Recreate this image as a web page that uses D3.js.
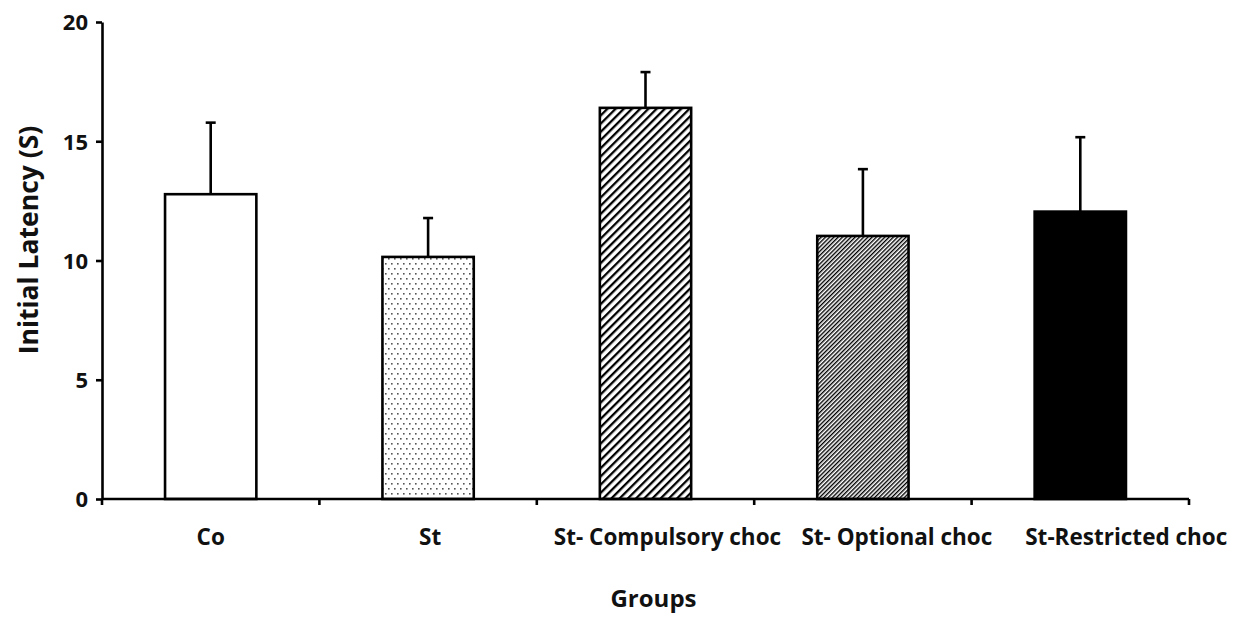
<!DOCTYPE html>
<html>
<head>
<meta charset="utf-8">
<script src="https://cdn.jsdelivr.net/npm/d3@7"></script>
<style>
  body { margin: 0; background: #fff; }
  text { font-family: "Open Sans", "DejaVu Sans", sans-serif; font-weight: 700; fill: #111; }
</style>
</head>
<body>
<div id="chart"></div>
<script>
// data
const groups = ['Co', 'St', 'St- Compulsory choc', 'St- Optional choc', 'St-Restricted choc'];
const means = [12.78, 10.15, 16.4, 11.03, 12.05];
const errors = [3.0, 1.63, 1.5, 2.8, 3.12];
const yTicks = [0, 5, 10, 15, 20];
const fills = ['#fff', 'url(#dots)', 'url(#hatchWide)', 'url(#hatchFine)', '#000'];
// the long category labels sit a little right of their bars in the original
const labelShift = [0, 2, 22, 34, 46];

const W = 1234, H = 617;
const margin = { top: 22, left: 102, right: 45, bottom: 118 };
const innerW = W - margin.left - margin.right;
const innerH = H - margin.top - margin.bottom;

const svg = d3.select('#chart').append('svg')
  .attr('width', W)
  .attr('height', H);

// fill patterns
const defs = svg.append('defs');
const dots = defs.append('pattern')
  .attr('id', 'dots')
  .attr('patternUnits', 'userSpaceOnUse')
  .attr('width', 6).attr('height', 10);
dots.append('rect').attr('width', 6).attr('height', 10).attr('fill', '#fff');
dots.append('rect').attr('x', 1).attr('y', 1).attr('width', 1.6).attr('height', 1.6).attr('fill', '#555');
dots.append('rect').attr('x', 4).attr('y', 6).attr('width', 1.6).attr('height', 1.6).attr('fill', '#555');

function hatch(id, size, thick) {
  const p = defs.append('pattern')
    .attr('id', id)
    .attr('patternUnits', 'userSpaceOnUse')
    .attr('width', size).attr('height', size)
    .attr('patternTransform', 'rotate(45)');
  p.append('rect').attr('width', size).attr('height', size).attr('fill', '#fff');
  p.append('rect').attr('width', thick).attr('height', size).attr('fill', '#000');
}
hatch('hatchWide', 5.8, 2.3);
hatch('hatchFine', 3.0, 1.4);

const g = svg.append('g').attr('transform', `translate(${margin.left},${margin.top})`);

const x = d3.scaleBand().domain(groups).range([0, innerW]).paddingInner(0.58).paddingOuter(0.29);
const y = d3.scaleLinear().domain([0, 20]).range([innerH, 0]);

// bars
g.selectAll('rect.bar')
  .data(groups)
  .enter()
  .append('rect')
  .attr('class', 'bar')
  .attr('x', d => x(d))
  .attr('y', (d, i) => y(means[i]))
  .attr('width', x.bandwidth())
  .attr('height', (d, i) => innerH - y(means[i]))
  .attr('fill', (d, i) => fills[i])
  .attr('stroke', '#000')
  .attr('stroke-width', 2.6);

// error bars (upper only)
const eb = g.selectAll('g.err')
  .data(groups)
  .enter()
  .append('g')
  .attr('class', 'err');
eb.append('line')
  .attr('x1', d => x(d) + x.bandwidth() / 2)
  .attr('x2', d => x(d) + x.bandwidth() / 2)
  .attr('y1', (d, i) => y(means[i]))
  .attr('y2', (d, i) => y(means[i] + errors[i]))
  .attr('stroke', '#000').attr('stroke-width', 2.6);
eb.append('line')
  .attr('x1', d => x(d) + x.bandwidth() / 2 - 5)
  .attr('x2', d => x(d) + x.bandwidth() / 2 + 5)
  .attr('y1', (d, i) => y(means[i] + errors[i]))
  .attr('y2', (d, i) => y(means[i] + errors[i]))
  .attr('stroke', '#000').attr('stroke-width', 2.6);

// y axis
const yAxis = g.append('g')
  .call(d3.axisLeft(y).tickValues(yTicks).tickSize(6).tickSizeOuter(0).tickPadding(8));
yAxis.select('.domain').attr('stroke-width', 2.6);
yAxis.selectAll('.tick line').attr('stroke-width', 2.6);
yAxis.selectAll('text').style('font-size', '22px').attr('dy', '0.36em');

// x axis: ticks sit between categories
const xAxis = g.append('g').attr('transform', `translate(0,${innerH})`);
xAxis.append('line')
  .attr('x1', 0).attr('x2', innerW)
  .attr('stroke', '#000').attr('stroke-width', 2.6);
const step = x.step();
const edges = d3.range(groups.length + 1).map(i => i * step);
xAxis.selectAll('line.tk')
  .data(edges)
  .enter()
  .append('line')
  .attr('class', 'tk')
  .attr('x1', d => d).attr('x2', d => d)
  .attr('y1', 0).attr('y2', 6)
  .attr('stroke', '#000').attr('stroke-width', 2.6);
xAxis.selectAll('text')
  .data(groups)
  .enter()
  .append('text')
  .attr('x', (d, i) => x(d) + x.bandwidth() / 2 + labelShift[i])
  .attr('y', 46)
  .attr('text-anchor', 'middle')
  .style('font-size', '22.5px')
  .text(d => d);

// axis titles
svg.append('text')
  .attr('x', margin.left + innerW / 2 + 8)
  .attr('y', 607)
  .attr('text-anchor', 'middle')
  .style('font-size', '24px')
  .text('Groups');

svg.append('text')
  .attr('transform', 'translate(38,240) rotate(-90)')
  .attr('text-anchor', 'middle')
  .style('font-size', '26.5px')
  .text('Initial Latency (S)');
</script>
</body>
</html>
